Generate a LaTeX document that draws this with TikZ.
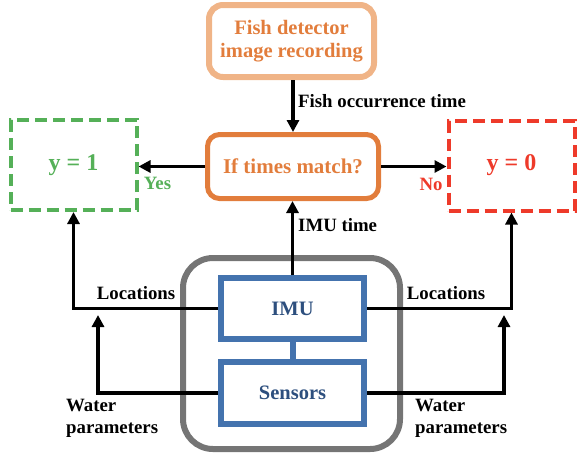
\documentclass[tikz,border=0pt]{standalone}
\usepackage{fontspec}
\setmainfont{Liberation Serif}
\usepackage{tikz}
\usetikzlibrary{positioning, arrows.meta, calc}

\definecolor{detorange}{HTML}{F0B487}
\definecolor{deeporange}{HTML}{E27D3C}
\definecolor{okgreen}{HTML}{55B058}
\definecolor{nored}{HTML}{EE3A2A}
\definecolor{imublue}{HTML}{4473AE}
\definecolor{imutext}{HTML}{2D4F7E}
\definecolor{unitgray}{HTML}{757575}

\begin{document}
\begin{tikzpicture}[
  x=1pt, y=-1pt,
  box/.style={rectangle, draw, line width=5pt, font=\fontsize{20.5}{23.5}\selectfont\bfseries},
  outbox/.style={rectangle, draw, line width=4pt, dash pattern=on 12pt off 6pt,
    minimum width=126pt, minimum height=90pt, font=\fontsize{24}{26}\selectfont\bfseries},
  lbl/.style={font=\fontsize{18.8}{22}\selectfont\bfseries, inner sep=0pt},
  arr/.style={-{Triangle[length=12pt, width=12pt]}, line width=3.5pt},
  every node/.style={align=center}
]
  \useasboundingbox (0,0) rectangle (577,459);

  % Top: detector and decision
  \node[box, draw=detorange, text=deeporange, rounded corners=14pt, line width=6pt,
    minimum width=165pt, minimum height=72pt] (det) at (291.5,41) {Fish detector\\image recording};
  \node[box, draw=deeporange, text=deeporange, rounded corners=12pt,
    minimum width=171pt, minimum height=64pt, font=\fontsize{21}{23}\selectfont\bfseries]
    (match) at (293,166.5) {If times match?};

  \draw[arr] (det.south -| match.north) -- (match.north);
  \node[lbl, anchor=west] (occ) at (298,101) {Fish occurrence time};

  % Outputs
  \node[outbox, draw=okgreen, text=okgreen] (yone) at (73.5,165) {y = 1};
  \node[outbox, draw=nored, text=nored] (yzero) at (511.5,165.5) {y = 0};

  \draw[arr] (match.west) -- (yone.east |- match.west);
  \draw[arr] (match.east) -- (yzero.west |- match.east);
  \node[lbl, text=okgreen] (yes) at (157.5,183) {Yes};
  \node[lbl, text=nored] (no) at (431,184) {No};

  % Sensor unit
  \node[rectangle, draw=unitgray, line width=6pt, rounded corners=30pt,
    minimum width=217pt, minimum height=191pt] (unit) at (291.5,353.5) {};
  \node[box, draw=imublue, text=imutext, line width=6pt,
    minimum width=143pt, minimum height=61pt] (imu) at (292.5,308.5) {IMU};
  \node[box, draw=imublue, text=imutext, line width=6pt,
    minimum width=143pt, minimum height=62pt] (sens) at (292.5,393) {Sensors};
  \draw[imublue, line width=6pt] (imu) -- (sens);

  \draw[arr] (imu.north) -- (match.south -| imu.north);
  \node[lbl, anchor=west] (imut) at (298,225) {IMU time};

  % Locations and water parameters
  \coordinate (wleft) at (98,315);
  \coordinate (wright) at (504,315);
  \draw[arr] (imu.west) -| (yone.south);
  \draw[arr] (imu.east) -| (yzero.south);
  \draw[arr] (sens.west) -| (wleft);
  \draw[arr] (sens.east) -| (wright);

  \node[lbl] (locl) at (136,293) {Locations};
  \node[lbl] (locr) at (446,293) {Locations};
  \node[lbl, align=left, anchor=west] (watl) at (66,418) {Water\\parameters};
  \node[lbl, align=left, anchor=west] (watr) at (415,418) {Water\\parameters};

\end{tikzpicture}
\end{document}
